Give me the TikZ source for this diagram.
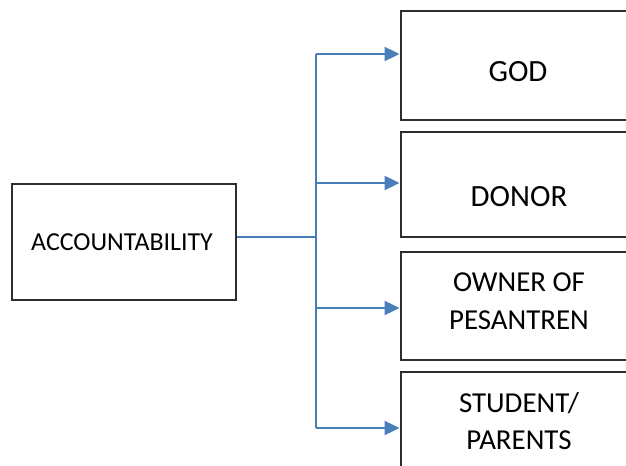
\documentclass[tikz,border=0pt]{standalone}
\usepackage{fontspec}
\setmainfont{Carlito}
\usetikzlibrary{arrows.meta}
\definecolor{linkblue}{HTML}{4A7EBB}
\definecolor{boxgray}{HTML}{2E2E2E}
\tikzset{
  box/.style={draw=boxgray, line width=1.5bp, inner sep=0pt},
  lbl/.style={inner sep=0pt, font=\fontsize{29}{38}\selectfont, align=center},
  biglbl/.style={inner sep=0pt, font=\fontsize{31}{38}\selectfont, align=center},
  conn/.style={draw=linkblue, line width=2.1bp},
  arr/.style={conn, -{Triangle[length=15bp,width=14bp]}, shorten >=0.7bp}
}
\begin{document}
\begin{tikzpicture}[x=1bp,y=-1bp]
\useasboundingbox (0,0) rectangle (626,466);
\clip (0,0) rectangle (626,466);
% boxes
\node[box, minimum width=224bp, minimum height=116bp] (acc) at (124,242) {};
\node[inner sep=0pt, font=\fontsize{26}{30}\selectfont] (acctext) at (122,242) {ACCOUNTABILITY};
\node[box, minimum width=240bp, minimum height=109bp] (god) at (521,65.5) {};
\node[biglbl] (godtext) at (518,72) {GOD};
\node[box, minimum width=240bp, minimum height=105bp] (donor) at (521,184.5) {};
\node[biglbl] (donortext) at (519,197) {DONOR};
\node[box, minimum width=240bp, minimum height=108bp] (owner) at (521,306) {};
\node[lbl] (ownertext) at (519,301) {OWNER OF\\PESANTREN};
\node[box, minimum width=240bp, minimum height=108bp] (student) at (521,426) {};
\node[lbl] (studenttext) at (519,421) {STUDENT/\\PARENTS};
% connectors
\coordinate (spine) at (316,237);
\draw[conn] (acc.east |- spine) -- (spine);
\draw[conn] (spine |- 0,54) -- (spine |- 0,428);
\draw[arr] (spine |- 0,54) -- (god.west |- 0,54);
\draw[arr] (spine |- 0,183) -- (donor.west |- 0,183);
\draw[arr] (spine |- 0,308) -- (owner.west |- 0,308);
\draw[arr] (spine |- 0,428) -- (student.west |- 0,428);
\end{tikzpicture}
\end{document}
